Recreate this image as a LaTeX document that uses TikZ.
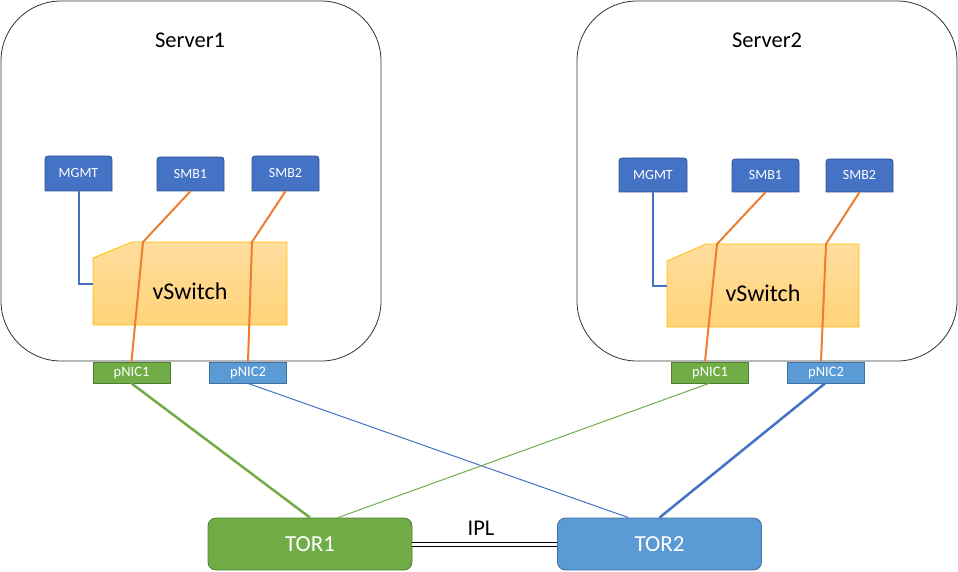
\documentclass[tikz,border=0pt]{standalone}
\usepackage{fontspec}
\setmainfont{Carlito}
\usetikzlibrary{calc}
\definecolor{cblue}{HTML}{4472C4}
\definecolor{cblueD}{HTML}{2F528F}
\definecolor{cgreen}{HTML}{70AD47}
\definecolor{cgreenD}{HTML}{507E32}
\definecolor{clb}{HTML}{5B9BD5}
\definecolor{clbD}{HTML}{41719C}
\definecolor{corange}{HTML}{ED7D31}
\definecolor{cgoldD}{HTML}{FFC000}
\definecolor{cgoldT}{HTML}{FFDD9E}
\definecolor{cgoldB}{HTML}{FFD378}
\newcommand\mytopbox[6]{%
  \filldraw[fill=cblue, draw=cblueD, line width=0.8]
    (#2,#5) -- (#2,{#3+7}) .. controls (#2,#3) .. ({#2+7},#3)
    -- ({#4-7},#3) .. controls (#4,#3) .. (#4,{#3+7}) -- (#4,#5) -- cycle;
  \node[smalltxt, minimum width={#4-#2}, minimum height={#5-#3}] (#1) at ({(#2+#4)/2},{(#3+#5)/2}) {#6};
}
\begin{document}
\begin{tikzpicture}[x=1pt,y=-1pt,
  serverbox/.style={draw=black!80, line width=0.8, rounded corners=60},
  smalltxt/.style={inner sep=0, text=white, font=\fontsize{14}{16}\selectfont},
  pnic/.style={inner sep=0, text=white, font=\fontsize{14.5}{16}\selectfont, line width=0.8, minimum width=77, minimum height=21},
  tor/.style={inner sep=0, text=white, font=\fontsize{23}{26}\selectfont, line width=0.8, rounded corners=8, minimum width=204, minimum height=52},
  title/.style={inner sep=0, font=\fontsize{22.5}{26}\selectfont},
  vsbox/.style={top color=cgoldT, bottom color=cgoldB, draw=cgoldD, line width=0.8},
  vstxt/.style={inner sep=0, font=\fontsize{24}{28}\selectfont},
  oline/.style={draw=corange, line width=2},
  mline/.style={draw=cblue, line width=2},
  gthick/.style={draw=cgreen, line width=2.5},
  gthin/.style={draw=cgreen, line width=1},
  bthick/.style={draw=cblue, line width=2.5},
  bthin/.style={draw=cblue, line width=1}]
\useasboundingbox (0,0) rectangle (958,572);

% ---------- Server 1 ----------
\draw[serverbox] (1,1) rectangle (381,361);
\node[title] (s1title) at (190,40) {Server1};
\mytopbox{mgmtA}{45}{156}{112}{191}{MGMT}
\mytopbox{smbA1}{157}{157}{224}{191}{SMB1}
\mytopbox{smbA2}{252}{156}{319}{191}{SMB2}
\shade[vsbox] (93,258) -- (132,242) -- (287,242) -- (287,325) -- (93,325) -- cycle;
\node[inner sep=0, minimum width=194, minimum height=83] (vsA) at (190,283.5) {};
\node[vstxt] (vsAt) at (190,291) {vSwitch};
\node[pnic, fill=cgreen, draw=cgreenD] (pnicA1) at (131.5,372.5) {pNIC1};
\node[pnic, fill=clb, draw=clbD] (pnicA2) at (248,372.5) {pNIC2};
\coordinate (bA1) at (143,242);
\coordinate (bA2) at (252,242);
\draw[mline] (mgmtA.south) |- (vsA.west);
\draw[oline] (smbA1.south) -- (bA1) -- (pnicA1.north);
\draw[oline] (smbA2.south) -- (bA2) -- (pnicA2.north);

% ---------- Server 2 ----------
\draw[serverbox] (577,1) rectangle (957,361);
\node[title] (s2title) at (767,40) {Server2};
\mytopbox{mgmtB}{619}{158}{687}{192}{MGMT}
\mytopbox{smbB1}{732}{159}{799}{192}{SMB1}
\mytopbox{smbB2}{826}{159}{893}{192}{SMB2}
\shade[vsbox] (667,261) -- (706,244) -- (859,244) -- (859,327) -- (667,327) -- cycle;
\node[inner sep=0, minimum width=192, minimum height=83] (vsB) at (763,285.5) {};
\node[vstxt] (vsBt) at (763,293) {vSwitch};
\node[pnic, fill=cgreen, draw=cgreenD] (pnicB1) at (710,372.5) {pNIC1};
\node[pnic, fill=clb, draw=clbD] (pnicB2) at (826,372.5) {pNIC2};
\coordinate (bB1) at (717,244);
\coordinate (bB2) at (826,244);
\draw[mline] (mgmtB.south) |- (vsB.west);
\draw[oline] (smbB1.south) -- (bB1) -- ($(pnicB1.north)+(-5,0)$);
\draw[oline] (smbB2.south) -- (bB2) -- ($(pnicB2.north)+(-5,0)$);

% ---------- TORs ----------
\node[tor, fill=cgreen, draw=cgreenD] (tor1) at (310,544) {TOR1};
\node[tor, fill=clb, draw=clbD] (tor2) at (659.5,544) {TOR2};
\draw[double, double distance=3, line width=1] (tor1.east) -- (tor2.west);
\node[title] (ipl) at (481,528) {IPL};

\draw[gthick] (pnicA1.south) -- (tor1.north);
\draw[bthin] (pnicA2.south) -- ($(tor2.north)+(-31,0)$);
\draw[gthin] ($(pnicB1.south)+(-1,0)$) -- ($(tor1.north)+(28,0)$);
\draw[bthick] ($(pnicB2.south)+(-1,0)$) -- (tor2.north);
\end{tikzpicture}
\end{document}
